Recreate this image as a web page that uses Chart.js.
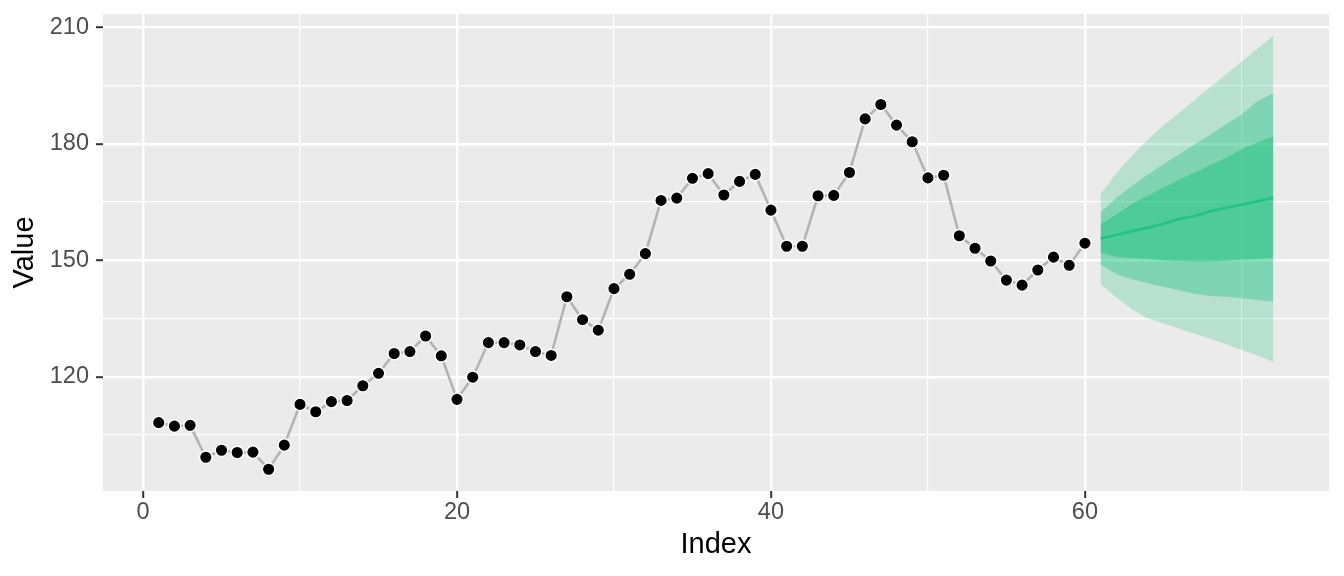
<!DOCTYPE html>
<html>
<head>
<meta charset="utf-8">
<script src="https://cdn.jsdelivr.net/npm/chart.js@4/dist/chart.umd.min.js"></script>
<style>
  body { margin: 0; background: #fff; }
  canvas { display: block; }
</style>
</head>
<body>
<canvas id="chart" width="1344" height="576"></canvas>
<script>
// observed series, index 1..60
const observed = [
  108.2, 107.3, 107.5, 99.3, 101.1, 100.5, 100.6, 96.2, 102.4, 112.9,
  111.0, 113.6, 113.9, 117.7, 120.9, 126.0, 126.5, 130.5, 125.4, 114.2,
  119.9, 128.8, 128.8, 128.2, 126.5, 125.5, 140.6, 134.7, 132.0, 142.7,
  146.4, 151.7, 165.4, 166.0, 171.1, 172.3, 166.8, 170.3, 172.1, 162.9,
  153.6, 153.6, 166.6, 166.7, 172.6, 186.4, 190.1, 184.8, 180.5, 171.2,
  171.9, 156.3, 153.1, 149.8, 144.9, 143.6, 147.5, 150.8, 148.7, 154.4
];

// forecast, index 61..72
const fcMean    = [155.6, 156.5, 157.5, 158.4, 159.4, 160.6, 161.4, 162.6, 163.5, 164.3, 165.2, 166.1];
const innerUp   = [159.3, 161.8, 164.5, 166.6, 168.7, 170.7, 172.6, 174.5, 176.4, 178.6, 180.3, 181.9];
const innerLow  = [152.0, 150.9, 150.5, 150.3, 150.0, 149.8, 149.7, 149.7, 149.9, 150.2, 150.3, 150.6];
const midUp     = [162.3, 166.1, 169.1, 172.0, 174.7, 177.3, 179.9, 182.4, 185.0, 187.6, 191.0, 193.0];
const midLow    = [149.0, 146.4, 145.1, 144.1, 143.2, 142.3, 141.4, 140.8, 140.6, 140.2, 139.8, 139.3];
const outerUp   = [167.0, 172.4, 177.0, 181.0, 184.6, 188.0, 191.3, 194.6, 197.9, 201.2, 204.5, 207.8];
const outerLow  = [143.8, 140.4, 137.4, 135.0, 133.8, 132.4, 131.1, 129.8, 128.4, 126.9, 125.5, 123.8];

const xMajor = [0, 20, 40, 60];
const yMajor = [120, 150, 180, 210];

function obsPoints() {
  return observed.map((v, i) => ({ x: i + 1, y: v }));
}
function fcPoints(arr) {
  return arr.map((v, i) => ({ x: i + 61, y: v }));
}

function band(up, low, color) {
  return [
    { data: fcPoints(up), borderWidth: 0, pointRadius: 0, fill: '+1', backgroundColor: color },
    { data: fcPoints(low), borderWidth: 0, pointRadius: 0, fill: false }
  ];
}

const panelBg = {
  id: 'panelBg',
  beforeDraw(chart) {
    const a = chart.chartArea;
    const ctx = chart.ctx;
    ctx.save();
    ctx.fillStyle = '#EBEBEB';
    ctx.fillRect(a.left, a.top, a.right - a.left, a.bottom - a.top);
    ctx.restore();
  }
};

const font = '"Liberation Sans", Arial, Helvetica, sans-serif';

new Chart(document.getElementById('chart'), {
  type: 'scatter',
  data: {
    datasets: [
      { data: obsPoints(), showLine: false, pointRadius: 6.3, pointBorderWidth: 1.5,
        pointBackgroundColor: '#000', pointBorderColor: '#fff' },
      { data: obsPoints(), showLine: true, borderColor: '#B3B3B3', borderWidth: 2.6, pointRadius: 0 },
      { data: fcPoints(fcMean), showLine: true, borderColor: 'rgb(30,196,134)', borderWidth: 2.6, pointRadius: 0 },
      ...band(innerUp, innerLow, 'rgba(0,186,115,0.38)'),
      ...band(midUp, midLow, 'rgba(0,186,115,0.31)'),
      ...band(outerUp, outerLow, 'rgba(0,186,115,0.22)')
    ].map(d => Object.assign({ showLine: true, tension: 0 }, d))
  },
  options: {
    responsive: false,
    animation: false,
    devicePixelRatio: 1,
    layout: { padding: { top: 14, right: 15, left: 0, bottom: 0 } },
    plugins: { legend: { display: false }, tooltip: { enabled: false } },
    scales: {
      x: {
        type: 'linear',
        min: -2.55,
        max: 75.55,
        afterFit: s => { s.height = 85; s.paddingLeft = 0; s.paddingRight = 0; },
        border: { display: false },
        grid: {
          color: '#fff',
          lineWidth: c => xMajor.includes(c.tick.value) ? 2.4 : 1.2,
          tickColor: c => xMajor.includes(c.tick.value) ? '#333333' : 'rgba(0,0,0,0)',
          tickLength: 7,
          tickWidth: 2
        },
        ticks: {
          stepSize: 10,
          includeBounds: false,
          autoSkip: false,
          maxRotation: 0,
          padding: 3,
          color: '#4D4D4D',
          font: { family: font, size: 23.5, lineHeight: 1 },
          callback: v => xMajor.includes(v) ? String(v) : ''
        },
        title: {
          display: true,
          text: 'Index',
          color: '#000',
          padding: { top: 0, bottom: 17 },
          font: { family: font, size: 29, lineHeight: 1 }
        }
      },
      y: {
        type: 'linear',
        min: 90.6,
        max: 213.4,
        afterFit: s => { s.width = 103; s.paddingTop = 0; s.paddingBottom = 0; },
        border: { display: false },
        grid: {
          color: '#fff',
          lineWidth: c => yMajor.includes(c.tick.value) ? 2.4 : 1.2,
          tickColor: c => yMajor.includes(c.tick.value) ? '#333333' : 'rgba(0,0,0,0)',
          tickLength: 7,
          tickWidth: 2
        },
        ticks: {
          stepSize: 15,
          includeBounds: false,
          autoSkip: false,
          padding: 7,
          color: '#4D4D4D',
          font: { family: font, size: 23.5, lineHeight: 1 },
          callback: v => yMajor.includes(v) ? String(v) : ''
        },
        title: {
          display: true,
          text: 'Value',
          color: '#000',
          padding: { top: 10, bottom: 0 },
          font: { family: font, size: 29, lineHeight: 1 }
        }
      }
    }
  },
  plugins: [panelBg]
});
</script>
</body>
</html>
